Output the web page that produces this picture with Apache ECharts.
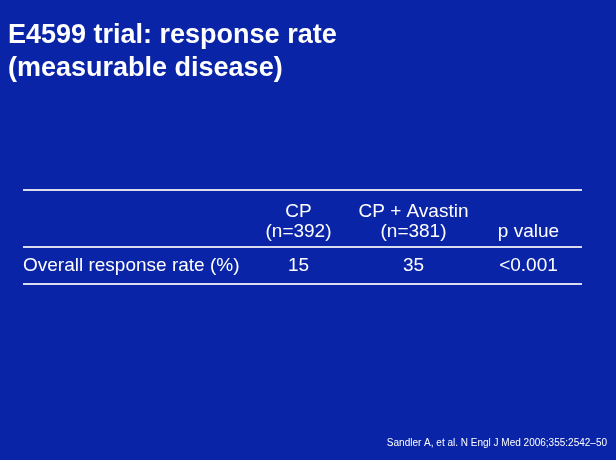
<!DOCTYPE html>
<html>
<head>
<meta charset="utf-8">
<script src="https://cdn.jsdelivr.net/npm/echarts@6/dist/echarts.min.js"></script>
<style>
  html, body { margin: 0; padding: 0; background: #0a24a8; }
  #chart { width: 616px; height: 460px; }
</style>
</head>
<body>
<div id="chart"></div>
<script>
// ---- data ----
const titleLines = ['E4599 trial: response rate', '(measurable disease)'];
const columnHeaders = ['CP\n(n=392)', 'CP + Avastin\n(n=381)', 'p value'];
const rowLabels = ['Overall response rate (%)'];
const rowValues = [['15', '35', '<0.001']];
const footnote = 'Sandler A, et al. N Engl J Med 2006;355:2542\u201350';

// ---- chart ----
const FONT = '"Liberation Sans", Arial, Helvetica, sans-serif';
const TXT = '#ffffff';
const RULE = '#d9dcee';

const cells = [];
rowValues.forEach((row, r) => row.forEach((v, c) => cells.push({ value: [c, r], label: { formatter: v } })));

const tableLeft = 23, tableRight = 582;
const rules = [190, 247, 284].map(y => ({
  type: 'line',
  shape: { x1: tableLeft, y1: y, x2: tableRight, y2: y },
  style: { stroke: RULE, lineWidth: 2 }
}));

const chart = echarts.init(document.getElementById('chart'), null, { renderer: 'canvas' });
chart.setOption({
  backgroundColor: '#0a24a8',
  animation: false,
  title: [
    {
      text: titleLines.join('\n'),
      left: 8, top: 19, padding: 0,
      textStyle: { color: TXT, fontFamily: FONT, fontWeight: 'bold', fontSize: 27, lineHeight: 33 }
    },
    {
      text: footnote,
      right: 9, top: 438, padding: 0,
      textStyle: { color: TXT, fontFamily: FONT, fontWeight: 'normal', fontSize: 10 }
    }
  ],
  grid: { left: 241, right: 30, top: 247, bottom: 176 },
  xAxis: {
    type: 'category',
    position: 'top',
    data: columnHeaders,
    axisLine: { show: false },
    axisTick: { show: false },
    splitLine: { show: false },
    axisLabel: {
      color: TXT, fontFamily: FONT, fontSize: 19, lineHeight: 20,
      margin: 5, interval: 0, verticalAlign: 'bottom'
    }
  },
  yAxis: {
    type: 'category',
    data: rowLabels,
    inverse: true,
    axisLine: { show: false },
    axisTick: { show: false },
    splitLine: { show: false },
    axisLabel: {
      color: TXT, fontFamily: FONT, fontSize: 19,
      align: 'left', margin: 218
    }
  },
  series: [{
    type: 'scatter',
    symbolSize: 0,
    itemStyle: { opacity: 1 },
    data: cells,
    label: {
      show: true, position: 'inside', opacity: 1,
      color: TXT, fontFamily: FONT, fontSize: 19
    },
    silent: true
  }],
  graphic: rules
});
</script>
</body>
</html>
